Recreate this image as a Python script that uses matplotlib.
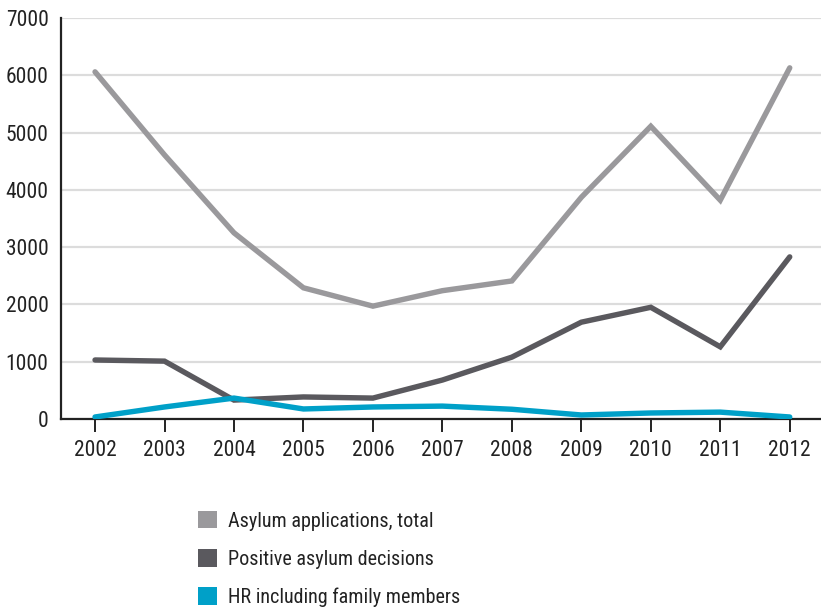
import matplotlib
matplotlib.use("Agg")
import matplotlib.pyplot as plt
from matplotlib.patches import Patch

plt.rcParams["font.family"] = ["Roboto Condensed", "Liberation Sans", "DejaVu Sans"]

years = [2002, 2003, 2004, 2005, 2006, 2007, 2008, 2009, 2010, 2011, 2012]
applications = [6060, 4610, 3250, 2290, 1970, 2240, 2410, 3870, 5110, 3820, 6130]
positive = [1030, 1010, 330, 385, 365, 680, 1080, 1690, 1950, 1260, 2830]
hr_family = [35, 210, 365, 175, 210, 225, 170, 70, 105, 120, 35]
labels = ["Asylum applications, total", "Positive asylum decisions", "HR including family members"]
colors = ["#9a999c", "#5a595e", "#00a0c8"]

fig = plt.figure(figsize=(8.21, 6.08), dpi=100)
ax = fig.add_axes([61 / 821, 1 - 419 / 608, 760 / 821, 401 / 608])

for series, c in zip([applications, positive, hr_family], colors):
    ax.plot(years, series, color=c, lw=3.9, solid_capstyle="round", solid_joinstyle="miter", zorder=3)

ax.set_xlim(2001.51, 2012.45)
ax.set_ylim(0, 7000)
ax.set_xticks(years)
ax.set_yticks(range(0, 7001, 1000))
ax.grid(axis="y", color="#dcdcdc", lw=1.6, zorder=0)
for s in ["top", "right"]:
    ax.spines[s].set_visible(False)
for s in ["left", "bottom"]:
    ax.spines[s].set_color("#222222")
    ax.spines[s].set_linewidth(1.6)
ax.tick_params(axis="x", direction="out", length=9, width=1.4, color="#222222",
               labelsize=15.5, pad=6, labelcolor="#222222")
ax.tick_params(axis="y", length=0, labelsize=15.5, pad=9, labelcolor="#222222")

handles = [Patch(facecolor=c, edgecolor="none") for c in colors]
fig.legend(handles, labels, loc="upper left", bbox_to_anchor=(180 / 821, 1 - 493 / 608),
           frameon=False, fontsize=14.5, handlelength=0.95, handleheight=0.95,
           handletextpad=0.55, labelspacing=0.92, labelcolor="#222222")

fig.savefig("out.png", dpi=100)
